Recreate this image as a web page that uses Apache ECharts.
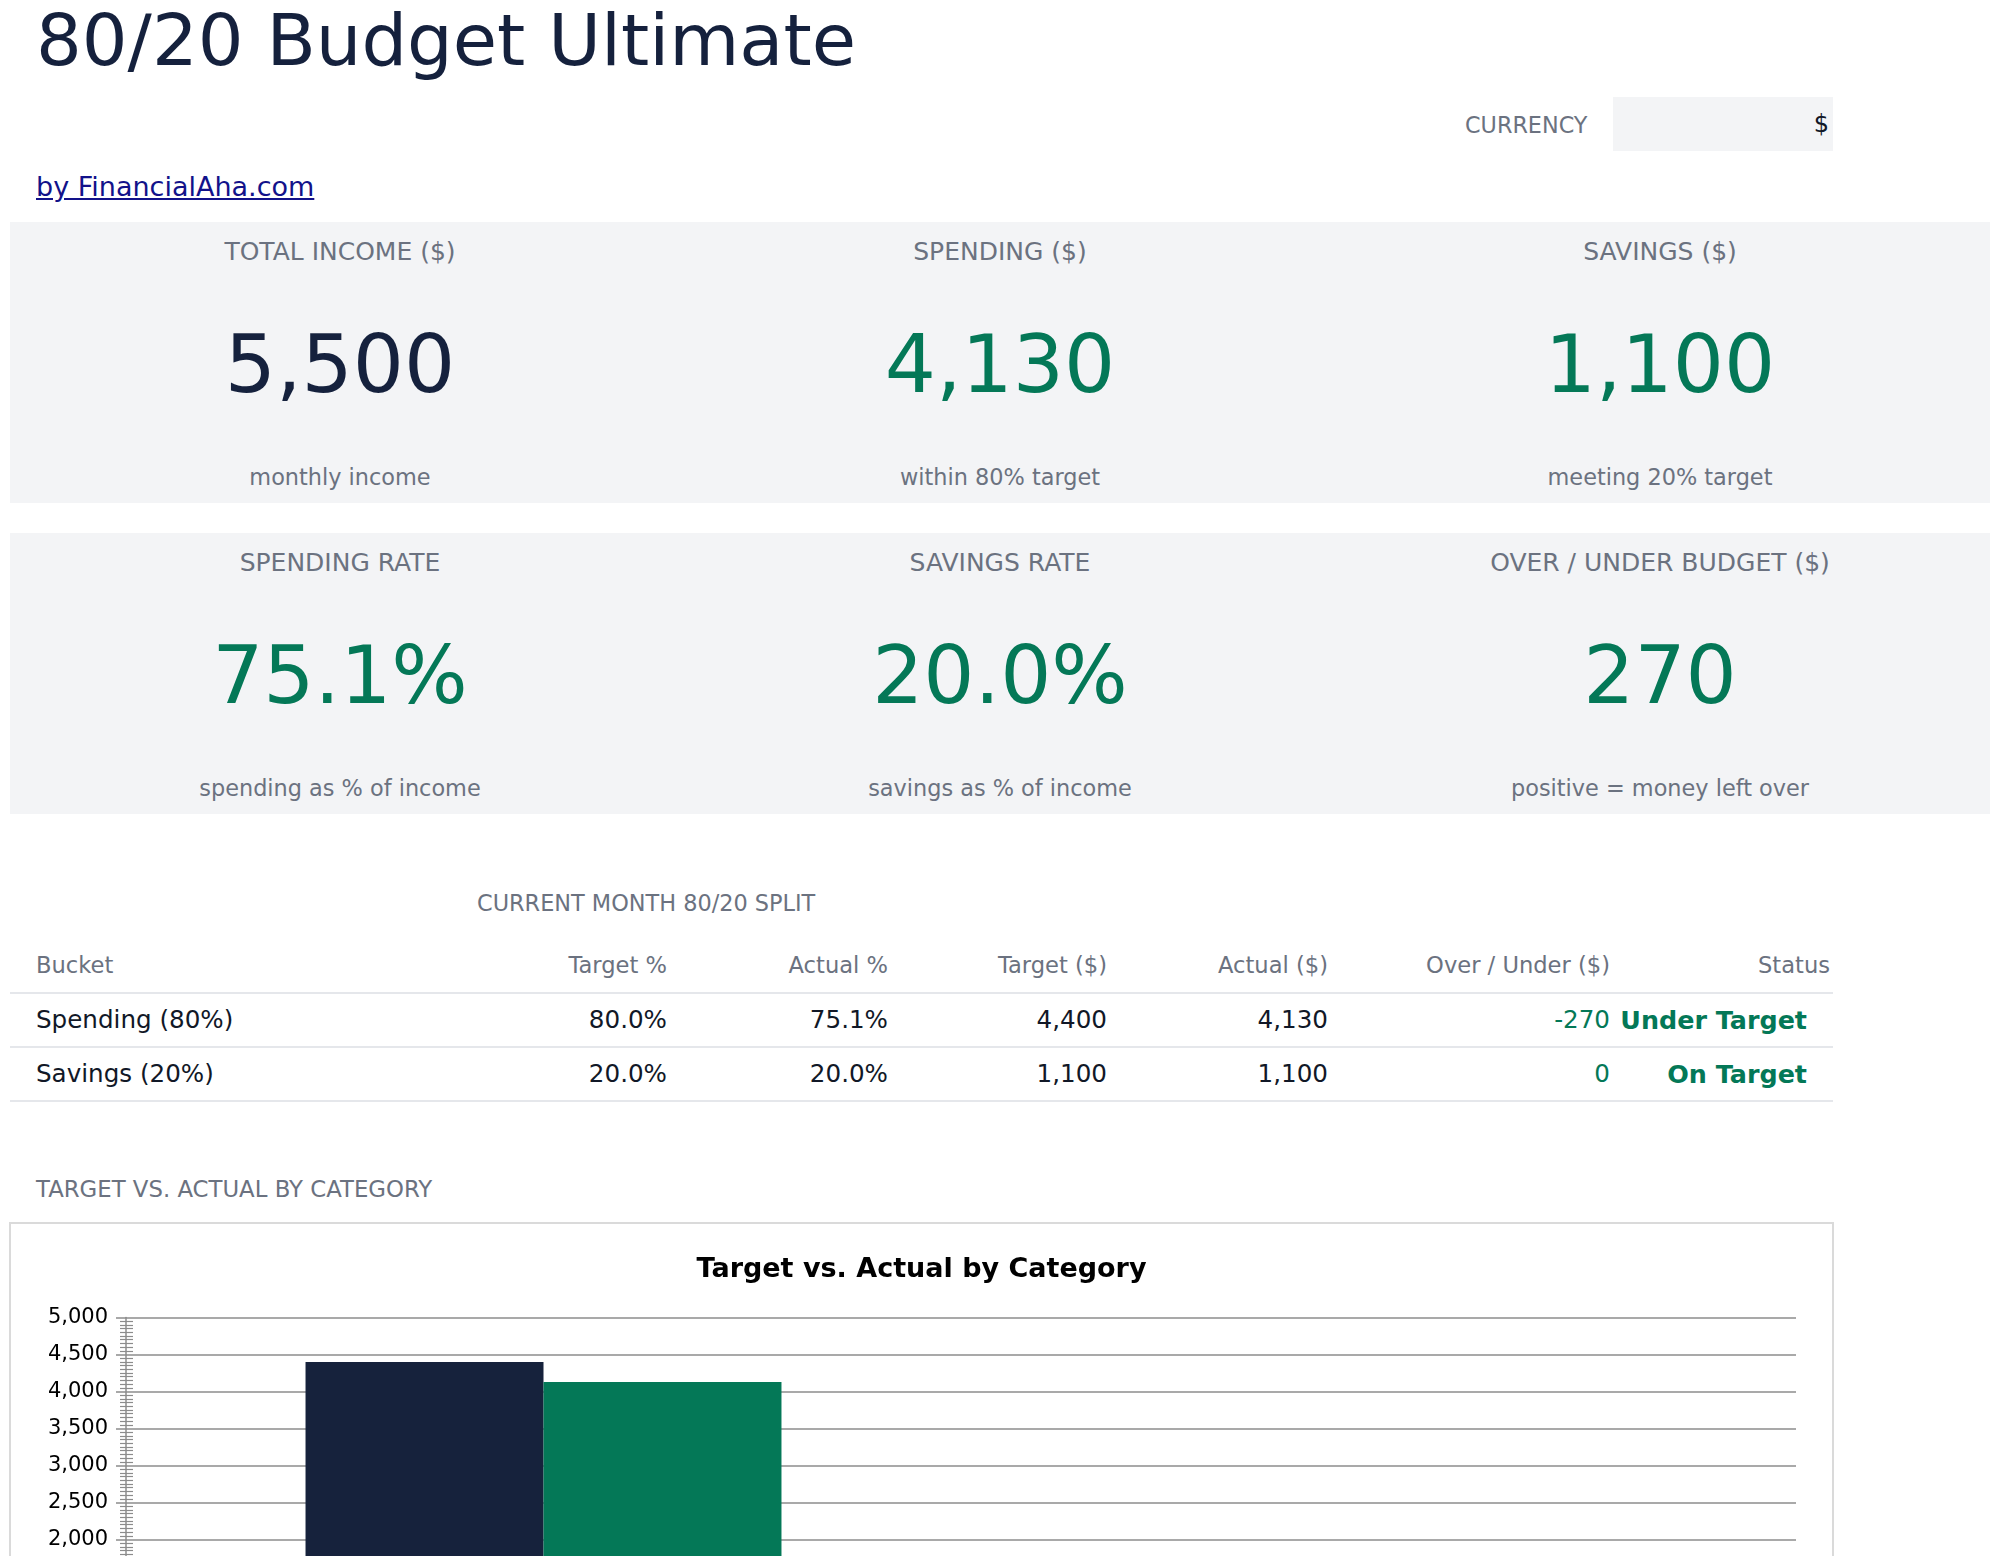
<!DOCTYPE html>
<html>
<head>
<meta charset="utf-8">
<script src="https://cdn.jsdelivr.net/npm/echarts@6/dist/echarts.min.js"></script>
<style>
  html, body { margin: 0; padding: 0; width: 2000px; height: 1556px; overflow: hidden; background: #ffffff; }
  body { position: relative; font-family: "DejaVu Sans", sans-serif; }
  .t { position: absolute; line-height: 1; white-space: nowrap; }
  .box { position: absolute; }
</style>
</head>
<body>
<div id="page"></div>
<div class="box" id="chartBox" style="left:9px;top:1222px;width:1825px;height:580px;border:2px solid #dadada;box-sizing:border-box;">
  <div id="chart" style="width:1821px;height:576px;"></div>
</div>
<script>
// ---------- data ----------
const pageTitle = '80/20 Budget Ultimate';
const byline = 'by FinancialAha.com';
const currencySymbol = '$';

const kpiLabels = ['TOTAL INCOME ($)', 'SPENDING ($)', 'SAVINGS ($)', 'SPENDING RATE', 'SAVINGS RATE', 'OVER / UNDER BUDGET ($)'];
const kpiValues = ['5,500', '4,130', '1,100', '75.1%', '20.0%', '270'];
const kpiNotes = ['monthly income', 'within 80% target', 'meeting 20% target', 'spending as % of income', 'savings as % of income', 'positive = money left over'];
const kpiTones = ['navy', 'green', 'green', 'green', 'green', 'green'];

const tableHeaders = ['Bucket', 'Target %', 'Actual %', 'Target ($)', 'Actual ($)', 'Over / Under ($)', 'Status'];
const buckets = ['Spending (80%)', 'Savings (20%)'];
const targetPct = ['80.0%', '20.0%'];
const actualPct = ['75.1%', '20.0%'];
const targetAmt = [4400, 1100];
const actualAmt = [4130, 1100];
const overUnder = [-270, 0];
const statusText = ['Under Target', 'On Target'];

const categories = ['Spending', 'Savings'];
const targetSeries = [4400, 1100];
const actualSeries = [4130, 1100];
const yMin = 0, yMax = 5000, yInterval = 500;

// ---------- styles ----------
const NAVY = '#15213d', GREEN = '#047857', GRAY = '#6b7280', INK = '#111827', CARD = '#f3f4f6';
const page = document.getElementById('page');
const fmt = n => n.toLocaleString('en-US');

function txt(s, opt) {
  const d = document.createElement('div');
  d.className = 't';
  d.textContent = s;
  const size = opt.size;
  d.style.fontSize = size + 'px';
  d.style.top = (opt.cy - 0.48 * size) + 'px';
  d.style.color = opt.color || INK;
  if (opt.weight) d.style.fontWeight = opt.weight;
  if (opt.align === 'center') {
    d.style.left = (opt.x - 600) + 'px'; d.style.width = '1200px'; d.style.textAlign = 'center';
  } else if (opt.align === 'right') {
    d.style.right = (2000 - opt.x) + 'px'; d.style.textAlign = 'right';
  } else {
    d.style.left = opt.x + 'px';
  }
  if (opt.underline) d.style.textDecoration = 'underline';
  page.appendChild(d);
  return d;
}
function rect(l, t, w, h, bg) {
  const d = document.createElement('div');
  d.className = 'box';
  Object.assign(d.style, { left: l + 'px', top: t + 'px', width: w + 'px', height: h + 'px', background: bg });
  page.appendChild(d);
}

// header
txt(pageTitle, { x: 36, cy: 39, size: 72, color: NAVY });
txt('CURRENCY', { x: 1465, cy: 125, size: 22.3, color: GRAY });
rect(1613, 97, 220, 54, CARD);
txt(currencySymbol, { x: 1829, cy: 124, size: 24, color: INK, align: 'right' });
txt(byline, { x: 36, cy: 186, size: 27, color: '#12128a', underline: true });

// KPI cards
const cardTops = [222, 533];
cardTops.forEach(t => rect(10, t, 1980, 281, CARD));
const colCenters = [340, 1000, 1660];
kpiLabels.forEach((lab, i) => {
  const row = Math.floor(i / 3), col = i % 3;
  const top = cardTops[row], cx = colCenters[col];
  txt(lab, { x: cx, cy: top + 28.5, size: 25, color: GRAY, align: 'center' });
  txt(kpiValues[i], { x: cx, cy: top + 141, size: 80.5, color: kpiTones[i] === 'navy' ? NAVY : GREEN, align: 'center' });
  txt(kpiNotes[i], { x: cx, cy: top + 255, size: 22.4, color: GRAY, align: 'center' });
});

// table
txt('CURRENT MONTH 80/20 SPLIT', { x: 477, cy: 903, size: 22.4, color: GRAY });
const colRight = [null, 667, 888, 1107, 1328, 1610, 1830];
tableHeaders.forEach((h, i) => {
  if (i === 0) txt(h, { x: 36, cy: 964.5, size: 22.6, color: GRAY });
  else txt(h, { x: colRight[i], cy: 964.5, size: 22.6, color: GRAY, align: 'right' });
});
[992, 1046, 1100].forEach(y => rect(10, y, 1823, 2, '#e5e7eb'));
const rowCenters = [1020, 1074];
buckets.forEach((b, r) => {
  const cy = rowCenters[r];
  txt(b, { x: 36, cy, size: 24.6, color: INK });
  txt(targetPct[r], { x: colRight[1], cy, size: 24.6, color: INK, align: 'right' });
  txt(actualPct[r], { x: colRight[2], cy, size: 24.6, color: INK, align: 'right' });
  txt(fmt(targetAmt[r]), { x: colRight[3], cy, size: 24.6, color: INK, align: 'right' });
  txt(fmt(actualAmt[r]), { x: colRight[4], cy, size: 24.6, color: INK, align: 'right' });
  txt(String(overUnder[r]), { x: colRight[5], cy, size: 24.6, color: GREEN, align: 'right' });
  txt(statusText[r], { x: 1807, cy, size: 25.4, color: GREEN, align: 'right', weight: 'bold' });
});

txt('TARGET VS. ACTUAL BY CATEGORY', { x: 36, cy: 1189, size: 22.8, color: GRAY });

// ---------- chart ----------
const chart = echarts.init(document.getElementById('chart'));
const axisGray = '#8c8c8c';
chart.setOption({
  animation: false,
  textStyle: { fontFamily: 'DejaVu Sans' },
  title: {
    text: 'Target vs. Actual by Category',
    left: 'center', top: 27,
    textStyle: { fontSize: 27, fontWeight: 'bold', color: '#000', fontFamily: 'DejaVu Sans', lineHeight: 27 }
  },
  legend: {
    bottom: 14, left: 'center',
    itemWidth: 20, itemHeight: 20,
    textStyle: { fontSize: 21, color: '#000', fontFamily: 'DejaVu Sans' },
    data: ['Target ($)', 'Actual ($)']
  },
  grid: { left: 115, right: 36, top: 93.5, bottom: 112.5, containLabel: false },
  xAxis: {
    type: 'category', data: categories,
    axisLine: { show: true, lineStyle: { color: axisGray, width: 1.5 } },
    axisTick: { show: false },
    axisLabel: { fontSize: 21, color: '#000', fontFamily: 'DejaVu Sans', margin: 14 }
  },
  yAxis: [
    {
      type: 'value', min: yMin, max: yMax, interval: yInterval, position: 'left',
      axisLine: { show: true, lineStyle: { color: axisGray, width: 1.5 } },
      axisTick: { show: true, length: 10, lineStyle: { color: axisGray, width: 1.5 } },
      minorTick: { show: true, splitNumber: 10, length: 6, lineStyle: { color: axisGray, width: 1.2 } },
      splitLine: { show: true, lineStyle: { color: axisGray, width: 1.5 } },
      axisLabel: { fontSize: 21, color: '#000', fontFamily: 'DejaVu Sans', margin: 18,
        formatter: v => fmt(v) }
    },
    {
      type: 'value', min: yMin, max: yMax, interval: yInterval, position: 'left', offset: 0,
      axisLine: { show: false },
      axisTick: { show: false, inside: true },
      minorTick: { show: true, splitNumber: 10, length: 7, lineStyle: { color: axisGray, width: 1.2 } },
      splitLine: { show: false },
      axisLabel: { show: false }
    }
  ],
  series: [
    { name: 'Target ($)', type: 'bar', yAxisIndex: 0, data: targetSeries, itemStyle: { color: '#16223c' },
      barGap: '0%', barCategoryGap: '43%' },
    { name: 'Actual ($)', type: 'bar', yAxisIndex: 0, data: actualSeries, itemStyle: { color: GREEN },
      barGap: '0%', barCategoryGap: '43%' }
  ]
});
</script>
</body>
</html>
